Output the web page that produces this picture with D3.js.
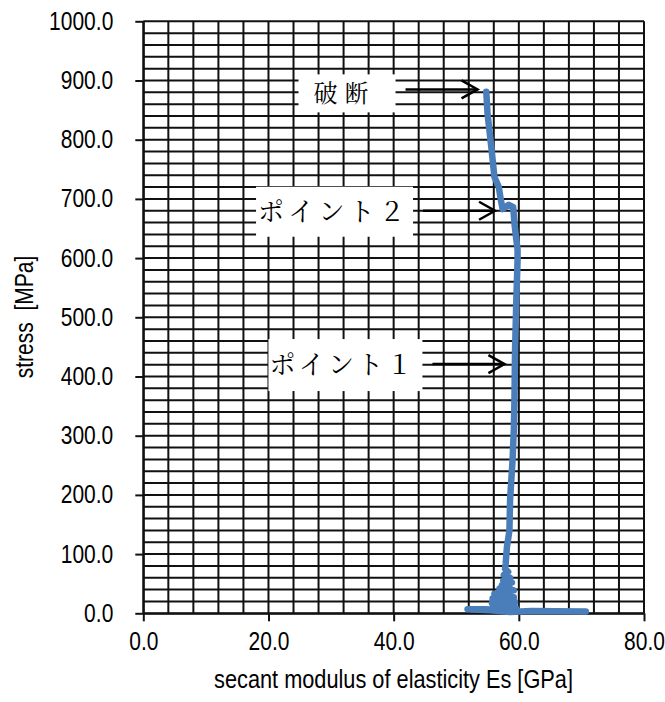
<!DOCTYPE html>
<html>
<head>
<meta charset="utf-8">
<script src="https://cdn.jsdelivr.net/npm/d3@7"></script>
<style>
  body { margin: 0; background: #fff; }
  svg { display: block; }
  text { font-family: "Liberation Sans", Arial, sans-serif; fill: #000; }
</style>
</head>
<body>
<div id="chart"></div>
<script>
// Messwerte: Sekantenmodul [GPa] gegen Spannung [MPa]
const esValues = [70.7, 66.0, 62.0, 58.6, 55.5, 51.8, 54.5, 57.2, 59.6, 56.6, 59.3, 56.0, 58.9, 55.7, 59.4,
  56.2, 59.0, 55.8, 59.2, 56.4, 58.7, 56.1, 58.3, 57.0, 59.2, 56.9, 58.5, 57.3, 58.9, 57.5, 58.6, 57.6,
  58.3, 57.8, 57.9, 58.1, 58.5, 58.6, 59.0, 59.2, 59.3, 59.4, 59.6, 59.8, 59.8, 59.5, 59.3, 59.1, 58.4,
  57.4, 57.1, 56.8, 56.1, 55.6, 55.0, 54.8];
const stressValues = [3, 3.5, 4, 2, 5, 7, 7, 6, 8, 10, 12, 14, 16, 17, 19,
  21, 23, 25, 27, 29, 31, 33, 35, 37, 39, 42, 45, 48, 52, 55, 60, 65,
  70, 75, 84, 112, 140, 191, 259, 310, 360, 445, 529, 597, 614, 640, 659, 686, 690,
  683, 700, 720, 737, 788, 844, 881];

const xTickValues = [0, 20, 40, 60, 80];
const yTickValues = [0, 100, 200, 300, 400, 500, 600, 700, 800, 900, 1000];

// Beschriftungen mit Pfeilspitze (Es, Spannung)
const noteLabels = ["破 断", "ポイント２", "ポイント１"];
const noteEs = [53.4, 56.2, 57.7];
const noteStress = [885, 680, 421];

const svg = d3.select("#chart").append("svg")
    .attr("width", 665)
    .attr("height", 702);

const x = d3.scaleLinear().domain([0, 80]).range([143.3, 644]);
const y = d3.scaleLinear().domain([0, 1000]).range([613.3, 21.3]);

const squeeze = 0.84; // schmale Schrift wie im Original

// Gitter
const grid = svg.append("g").attr("stroke", "#111").attr("stroke-width", 2);
grid.selectAll("line.v").data(d3.range(0, 80.01, 4)).enter().append("line")
    .attr("x1", d => x(d)).attr("x2", d => x(d))
    .attr("y1", y(0)).attr("y2", y(1000));
grid.selectAll("line.h").data(d3.range(0, 1000.01, 20)).enter().append("line")
    .attr("x1", x(0)).attr("x2", x(80))
    .attr("y1", d => y(d)).attr("y2", d => y(d));

// y-Achse
const yAxis = svg.append("g")
    .attr("transform", "translate(" + x(0) + ",0)")
    .call(d3.axisLeft(y).tickValues(yTickValues).tickFormat(d3.format(".1f"))
        .tickSize(8).tickSizeOuter(0).tickPadding(22));
yAxis.selectAll("line, path").attr("stroke", "#111").attr("stroke-width", 2);
yAxis.selectAll("text")
    .style("font-size", "25px")
    .attr("x", -30 / squeeze)
    .attr("transform", "scale(" + squeeze + ",1)");

// x-Achse
const xAxis = svg.append("g")
    .attr("transform", "translate(0," + y(0) + ")")
    .call(d3.axisBottom(x).tickValues(xTickValues).tickFormat(d3.format(".1f"))
        .tickSize(8).tickSizeOuter(0).tickPadding(11));
xAxis.selectAll("line, path").attr("stroke", "#111").attr("stroke-width", 2);
xAxis.selectAll("text")
    .style("font-size", "25px")
    .attr("transform", "scale(" + squeeze + ",1)");

// Achsentitel
svg.append("text")
    .attr("transform", "translate(393.5,688) scale(0.87,1)")
    .attr("text-anchor", "middle")
    .style("font-size", "25px")
    .text("secant modulus of elasticity Es [GPa]");

svg.append("text")
    .attr("transform", "translate(33,317) rotate(-90) scale(" + squeeze + ",1)")
    .attr("text-anchor", "middle")
    .style("font-size", "25px")
    .style("white-space", "pre")
    .text("stress  [MPa]");

// Kurve
const pts = esValues.map((e, i) => ({es: e, stress: stressValues[i]}));
const line = d3.line()
    .x(d => x(d.es))
    .y(d => y(d.stress));

svg.append("path")
    .datum(pts)
    .attr("fill", "none")
    .attr("stroke", "#4a7ebb")
    .attr("stroke-width", 6.5)
    .attr("stroke-linejoin", "round")
    .attr("stroke-linecap", "round")
    .attr("d", line);

// Beschriftungen
const boxW = [97, 157, 154];
const boxH = [38, 50, 52];
const textW = [55, 147, 143];
const textDx = [15, 2, 1];
const jpFont = '"Noto Serif CJK JP", "Noto Sans CJK JP", serif';

noteLabels.forEach((lab, i) => {
    const tx = x(noteEs[i]), ty = y(noteStress[i]);
    const arrowStart = tx - 72;
    const right = arrowStart - 10;
    const left = right - boxW[i];
    const cy = ty + (i === 0 ? 4 : 1);
    const g = svg.append("g");
    g.append("rect")
        .attr("x", left).attr("y", cy - boxH[i] / 2)
        .attr("width", boxW[i]).attr("height", boxH[i])
        .attr("fill", "#fff");
    g.append("text")
        .attr("x", left + textDx[i]).attr("y", cy + 9)
        .attr("textLength", textW[i])
        .attr("lengthAdjust", "spacing")
        .style("font-family", jpFont)
        .style("font-size", i === 0 ? "24px" : "26px")
        .text(lab);
    g.append("line")
        .attr("x1", arrowStart).attr("x2", tx)
        .attr("y1", ty).attr("y2", ty)
        .attr("stroke", "#000").attr("stroke-width", 2.5);
    g.append("path")
        .attr("d", "M" + (tx - 16) + "," + (ty - 9) + "L" + tx + "," + ty + "L" + (tx - 16) + "," + (ty + 9))
        .attr("fill", "none").attr("stroke", "#000").attr("stroke-width", 2.5);
});
</script>
</body>
</html>
